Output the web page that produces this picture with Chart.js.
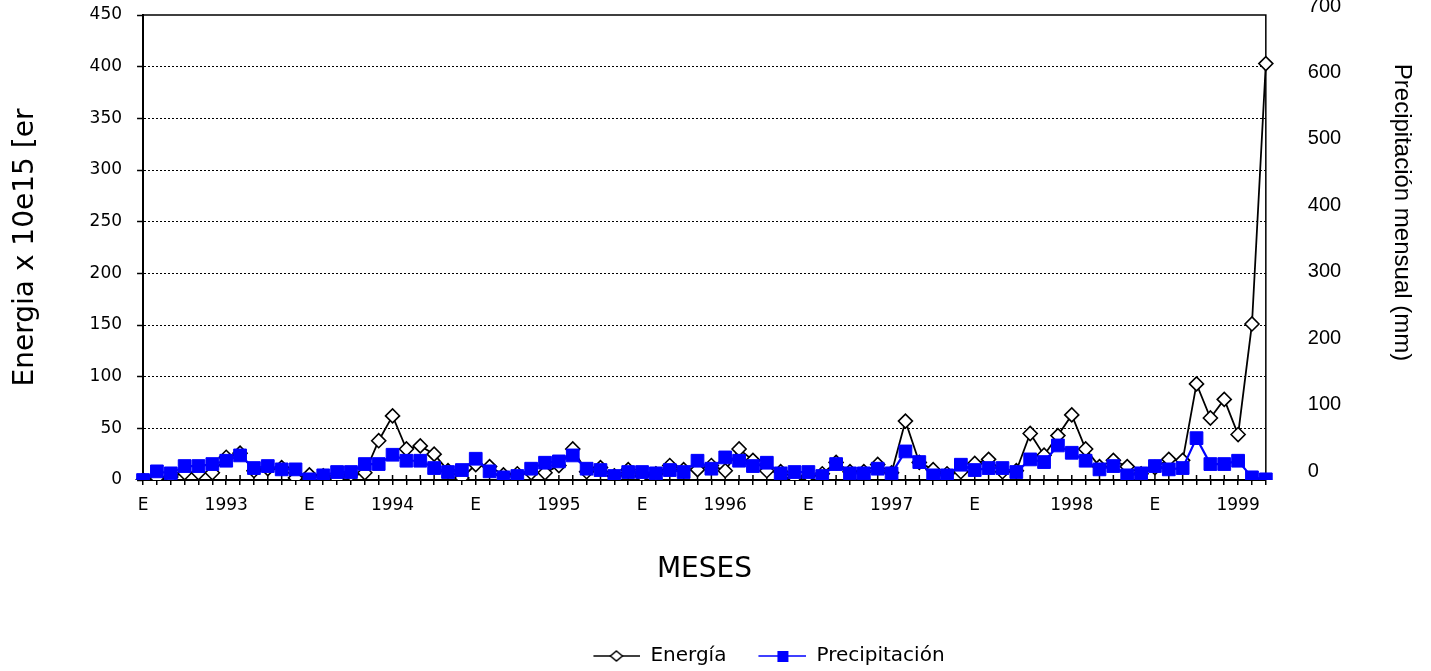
<!DOCTYPE html>
<html>
<head>
<meta charset="utf-8">
<script src="https://cdn.jsdelivr.net/npm/chart.js@4"></script>
<style>
  html, body { margin: 0; padding: 0; background: #fff; }
</style>
</head>
<body>
<canvas id="grafico" width="1431" height="671"></canvas>
<script>
// etiquetas del eje de meses (E = enero)
var meses = [
  'E', '', '', '', '', '', '1993', '', '', '', '', '',
  'E', '', '', '', '', '', '1994', '', '', '', '', '',
  'E', '', '', '', '', '', '1995', '', '', '', '', '',
  'E', '', '', '', '', '', '1996', '', '', '', '', '',
  'E', '', '', '', '', '', '1997', '', '', '', '', '',
  'E', '', '', '', '', '', '', '1998', '', '', '', '', '',
  'E', '', '', '', '', '', '1999', '', ''
];

var energia = [
  0, 2, 3, 7, 7, 7, 22, 26, 9, 11, 12, 2,
  5, 4, 1, 5, 7, 38, 62, 30, 33, 25, 9, 2,
  15, 13, 5, 6, 7, 7, 14, 30, 8, 12, 4, 10,
  4, 6, 14, 10, 10, 14, 9, 30, 19, 9, 8, 2,
  4, 6, 17, 8, 8, 15, 7, 57, 17, 10, 6, 8,
  16, 20, 8, 9, 45, 24, 43, 63, 30, 13, 19, 13,
  6, 12, 20, 19, 93, 60, 78, 44, 151, 403
];

var precipitacion = [
  0, 13, 10, 21, 21, 24, 29, 37, 18, 21, 16, 16,
  1, 7, 12, 12, 24, 24, 38, 29, 29, 18, 12, 15,
  32, 13, 4, 6, 17, 26, 28, 37, 17, 15, 6, 12,
  12, 10, 15, 12, 29, 17, 34, 29, 21, 26, 10, 12,
  12, 6, 24, 10, 10, 17, 10, 43, 27, 7, 7, 23,
  15, 18, 18, 12, 31, 27, 52, 41, 29, 16, 21, 7,
  10, 21, 16, 18, 63, 24, 24, 29, 4, 1
];

var nombres = ['Energía', 'Precipitación'];
var tituloIzq = 'Energia x 10e15 [er';
var tituloDer = 'Precipitación mensual (mm)';

Chart.defaults.font.family = 'DejaVu Sans';
Chart.defaults.color = '#000';

// iconos de la leyenda: linea con marcador
function icono(tipo) {
  var c = document.createElement('canvas');
  c.width = 74;
  c.height = 16;
  var g = c.getContext('2d');
  if (tipo === 0) {
    g.strokeStyle = '#000';
    g.lineWidth = 1.5;
    g.beginPath(); g.moveTo(27, 8); g.lineTo(74, 8); g.stroke();
    g.fillStyle = '#fff';
    g.beginPath();
    g.moveTo(50, 3); g.lineTo(56, 8); g.lineTo(50, 13); g.lineTo(44, 8); g.closePath();
    g.fill(); g.stroke();
  } else {
    g.strokeStyle = '#0000ff';
    g.lineWidth = 1.5;
    g.beginPath(); g.moveTo(26, 8); g.lineTo(74, 8); g.stroke();
    g.fillStyle = '#0000ff';
    g.fillRect(45, 3, 11, 11);
  }
  return c;
}

var marco = {
  id: 'marco',
  afterLayout: function (chart) {
    // la leyenda del original queda algo a la derecha y abajo
    chart.legend.left += 40;
    chart.legend.right += 40;
    chart.legend.top += 5;
    chart.legend.bottom += 5;
  },
  beforeDraw: function (chart) {
    // el titulo derecho esta centrado mas arriba: solo mientras se dibujan los ejes
    chart.scales.y1.bottom -= 70;
  },
  beforeDatasetsDraw: function (chart) {
    chart.scales.y1.bottom += 70;
    var ctx = chart.ctx, a = chart.chartArea, x = chart.scales.x;
    ctx.save();
    ctx.strokeStyle = '#000';
    ctx.lineWidth = 1.5;
    ctx.beginPath();
    ctx.moveTo(a.left, a.top);
    ctx.lineTo(a.right, a.top);
    ctx.lineTo(a.right, a.bottom);
    ctx.stroke();
    // parte interior de las marcas del eje x
    ctx.beginPath();
    for (var i = 0; i < x.ticks.length; i++) {
      var px = x.getPixelForTick(i);
      ctx.moveTo(px, a.bottom);
      ctx.lineTo(px, a.bottom - 5);
    }
    ctx.stroke();
    ctx.restore();
  }
};

function sinRelleno(s) { s.paddingTop = 0; s.paddingBottom = 0; }

new Chart(document.getElementById('grafico'), {
  type: 'line',
  data: {
    labels: meses,
    datasets: [{
      label: nombres[0],
      data: energia,
      yAxisID: 'y',
      order: 1,
      borderColor: '#000',
      borderWidth: 1.8,
      tension: 0,
      pointStyle: 'rectRot',
      pointRadius: 7,
      pointBackgroundColor: '#fff',
      pointBorderColor: '#000',
      pointBorderWidth: 1.6
    }, {
      label: nombres[1],
      data: precipitacion,
      yAxisID: 'y1',
      order: 0,
      borderColor: '#0000ff',
      borderWidth: 2.2,
      tension: 0,
      pointStyle: 'rect',
      pointRadius: 9,
      pointBackgroundColor: '#0000ff',
      pointBorderColor: '#0000ff',
      pointBorderWidth: 1
    }]
  },
  options: {
    responsive: false,
    animation: false,
    layout: { padding: { top: 15, left: 0, right: 0, bottom: 0 } },
    plugins: {
      tooltip: { enabled: false },
      legend: {
        position: 'bottom',
        labels: {
          usePointStyle: true,
          pointStyleWidth: 74,
          padding: 6,
          color: '#000',
          font: { size: 20 },
          generateLabels: function () {
            return nombres.map(function (n, i) {
              return { text: n, pointStyle: icono(i), datasetIndex: i, hidden: false, lineWidth: 0 };
            });
          }
        }
      }
    },
    scales: {
      x: {
        ticks: { autoSkip: false, maxRotation: 0, minRotation: 0, padding: 10, color: '#000', font: { size: 17 } },
        grid: { drawOnChartArea: false, tickLength: 5, color: '#000', lineWidth: 1.5 },
        border: { color: '#000', width: 2 },
        title: { display: true, text: 'MESES', color: '#000', font: { size: 28 }, padding: { top: 28, bottom: 48 } }
      },
      y: {
        position: 'left',
        min: 0,
        max: 450,
        ticks: { stepSize: 50, padding: 15, color: '#000', font: { size: 17 } },
        grid: {
          color: function (c) {
            return (c.tick && (c.tick.value === 0 || c.tick.value === 450)) ? 'rgba(0,0,0,0)' : '#000';
          },
          lineWidth: 1,
          tickColor: '#000',
          tickLength: 6,
          tickWidth: 1.5
        },
        border: { color: '#000', width: 2, dash: [2, 2] },
        title: { display: true, text: tituloIzq, color: '#000', font: { size: 28 }, padding: { top: 9, bottom: 32 } },
        afterFit: sinRelleno
      },
      y1: {
        position: 'right',
        min: 0,
        max: 700,
        ticks: { stepSize: 100, padding: 42, labelOffset: -9, color: '#000', font: { family: 'Liberation Sans', size: 20 } },
        grid: { drawOnChartArea: false, drawTicks: false },
        border: { display: false },
        title: { display: true, text: tituloDer, color: '#000', font: { family: 'Liberation Sans', size: 24 }, padding: { top: 15, bottom: 4 } },
        afterFit: sinRelleno
      }
    }
  },
  plugins: [marco]
});
</script>
</body>
</html>
